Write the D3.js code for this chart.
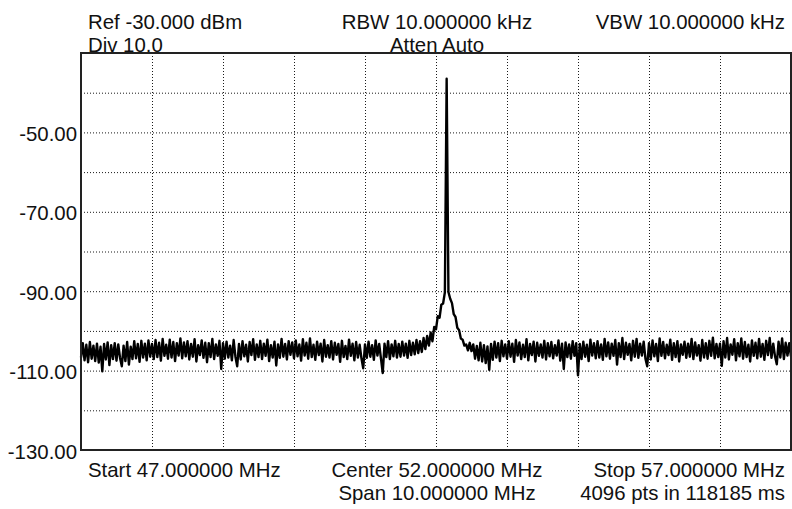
<!DOCTYPE html>
<html>
<head>
<meta charset="utf-8">
<script src="https://cdn.jsdelivr.net/npm/d3@7"></script>
<style>
  html, body { margin: 0; padding: 0; background: #fff; }
  svg { display: block; font-family: "Liberation Sans", Arial, sans-serif; }
  .lbl { font-size: 20.4px; fill: #111; }
  .grid line { stroke: #1a1a1a; stroke-width: 1; stroke-dasharray: 1,2; }
  .grid path { display: none; }
  .grid text { display: none; }
</style>
</head>
<body>
<script>
"use strict";

// sweep settings
const startMHz = 47.0;
const stopMHz = 57.0;
const stepMHz = 0.025;
const refDbm = -30;
const bottomDbm = -130;

// tick labels / grid
const yLabelTicks = [-50, -70, -90, -110, -130];
const yGridTicks = [-40, -50, -60, -70, -80, -90, -100, -110, -120];
const xGridTicks = [48, 49, 50, 51, 52, 53, 54, 55, 56];

// header / footer texts
const headerLeft = ["Ref -30.000 dBm", "Div 10.0"];
const headerMid = ["RBW 10.000000 kHz", "Atten Auto"];
const headerRight = ["VBW 10.000000 kHz"];
const footerLeft = ["Start 47.000000 MHz"];
const footerMid = ["Center 52.000000 MHz", "Span 10.000000 MHz"];
const footerRight = ["Stop 57.000000 MHz", "4096 pts in 118185 ms"];

// trace level (dBm), one value every 0.025 MHz from 47 to 57 MHz
const levelDbm = [
  -106.7,-103.1,-107.4,-103.5,-107.9,-102.8,-107.0,-103.7,-107.6,-103.2,-108.0,-104.0,-110.2,-103.3,-107.2,-102.9,-108.6,-103.6,-107.1,-103.1,
  -107.5,-103.4,-106.8,-108.9,-103.7,-107.6,-102.8,-108.5,-104.0,-107.1,-102.6,-106.9,-103.3,-107.8,-102.5,-106.7,-103.2,-107.4,-102.4,-106.5,
  -103.3,-107.1,-102.3,-106.6,-103.0,-107.5,-102.0,-106.3,-103.5,-107.0,-102.2,-106.7,-102.8,-107.6,-103.1,-106.2,-101.9,-106.9,-102.9,-106.4,
  -102.6,-107.2,-103.3,-106.5,-102.1,-107.7,-103.6,-106.1,-102.4,-106.8,-103.0,-107.9,-103.1,-106.6,-102.0,-107.1,-103.4,-106.3,-102.5,-109.6,
  -103.1,-107.0,-102.7,-106.7,-103.7,-107.4,-102.3,-106.5,-108.9,-103.3,-107.2,-102.6,-106.4,-103.5,-107.7,-102.8,-106.1,-102.1,-107.3,-103.4,
  -106.6,-102.5,-107.1,-103.2,-106.3,-102.2,-107.6,-103.6,-106.7,-102.7,-108.7,-103.4,-106.8,-102.0,-106.5,-103.3,-107.2,-102.6,-106.0,-102.9,
  -106.9,-102.4,-106.4,-103.4,-107.5,-102.1,-106.2,-103.0,-107.0,-101.9,-106.6,-103.5,-107.3,-102.7,-106.1,-103.2,-107.7,-102.3,-106.5,-103.6,
  -106.7,-102.6,-107.2,-103.0,-106.0,-103.3,-107.8,-102.5,-106.6,-103.8,-107.1,-102.2,-106.3,-103.2,-107.4,-102.8,-106.7,-103.5,-106.9,-109.4,
  -103.4,-106.8,-102.7,-106.5,-103.6,-107.3,-102.4,-106.2,-103.3,-107.0,-110.6,-103.2,-106.6,-102.6,-107.1,-103.4,-106.4,-102.5,-106.7,-103.3,
  -106.5,-102.7,-106.2,-103.2,-106.8,-102.5,-106.1,-103.0,-105.9,-102.3,-105.6,-102.6,-105.3,-101.8,-104.6,-101.3,-103.7,-100.4,-102.6,-99.0,
  -99.6,-96.3,-96.7,-93.4,-93.1,-90.3,-36.5,-90.2,-91.9,-93.0,-95.8,-96.5,-99.2,-99.8,-101.9,-102.2,-103.7,-103.4,-104.9,-103.0,
  -105.1,-103.4,-107.0,-103.8,-107.4,-103.0,-107.7,-103.6,-108.1,-103.9,-109.8,-103.3,-107.3,-102.7,-106.7,-103.1,-107.6,-102.5,-106.4,-103.4,
  -107.0,-102.6,-106.5,-103.2,-107.8,-102.3,-106.2,-102.9,-107.1,-103.5,-106.6,-102.1,-107.4,-103.3,-106.1,-102.7,-107.7,-103.0,-106.3,-103.4,
  -106.7,-102.5,-107.2,-103.1,-106.4,-102.8,-106.9,-103.6,-106.2,-102.4,-107.5,-103.2,-109.6,-102.9,-106.6,-103.4,-107.0,-102.6,-106.3,-103.1,
  -111.2,-103.3,-107.1,-102.7,-106.5,-103.5,-107.6,-102.2,-106.2,-103.1,-106.9,-102.6,-106.7,-103.4,-107.3,-102.0,-106.4,-102.9,-107.0,-103.2,
  -106.3,-102.3,-108.5,-103.1,-106.6,-101.8,-107.1,-103.0,-106.0,-103.3,-107.4,-102.5,-106.5,-102.0,-106.8,-103.2,-106.2,-102.7,-107.0,-108.9,
  -103.1,-107.2,-102.4,-106.4,-103.3,-107.6,-101.9,-106.3,-102.8,-106.9,-103.5,-106.1,-102.2,-107.3,-103.1,-106.6,-102.6,-107.7,-103.4,-106.0,
  -102.7,-106.8,-103.2,-106.5,-102.0,-107.1,-102.9,-106.2,-103.6,-107.5,-102.3,-106.7,-103.1,-107.0,-102.5,-106.3,-101.7,-106.9,-103.3,-106.6,
  -103.2,-108.8,-102.6,-106.7,-101.8,-107.2,-103.4,-106.0,-102.1,-107.4,-103.1,-106.4,-101.9,-107.0,-102.8,-106.6,-103.5,-107.7,-102.4,-106.3,
  -103.0,-106.9,-102.0,-106.5,-103.3,-107.3,-102.5,-106.1,-101.8,-106.8,-103.2,-106.4,-108.4,-102.7,-106.7,-101.9,-107.1,-103.0,-106.2,-103.1,
  -106.4
];

const width = 792;
const height = 509;
const plot = { left: 81, right: 791, top: 53, bottom: 450 };

const svg = d3.select("body").append("svg")
    .attr("width", width)
    .attr("height", height);

const x = d3.scaleLinear()
    .domain([startMHz, stopMHz])
    .range([plot.left, plot.right]);

const y = d3.scaleLinear()
    .domain([bottomDbm, refDbm])
    .range([plot.bottom, plot.top]);

// dotted grid
svg.append("g")
   .attr("class", "grid")
   .attr("transform", `translate(0,${plot.bottom})`)
   .call(d3.axisBottom(x).tickValues(xGridTicks).tickSize(-(plot.bottom - plot.top)));

svg.append("g")
   .attr("class", "grid")
   .attr("transform", `translate(${plot.left},0)`)
   .call(d3.axisLeft(y).tickValues(yGridTicks).tickSize(-(plot.right - plot.left)));

// y labels (plain hyphen minus, like the instrument)
const yAxis = svg.append("g")
   .attr("transform", `translate(${plot.left},0)`)
   .call(d3.axisLeft(y).tickValues(yLabelTicks).tickSize(0).tickPadding(4)
        .tickFormat(d => d.toFixed(2)));
yAxis.select(".domain").remove();
yAxis.selectAll("text")
     .attr("class", "lbl")
     .attr("fill", "#111")
     .style("font-size", "20.4px")
     .style("font-family", "'Liberation Sans', Arial, sans-serif")
     .attr("dy", "0.4em");

// trace
const trace = levelDbm.map((v, i) => ({ f: startMHz + i * stepMHz, v: v }));

const line = d3.line()
    .x(d => x(d.f))
    .y(d => y(d.v));

svg.append("path")
   .datum(trace)
   .attr("fill", "none")
   .attr("stroke", "#000")
   .attr("stroke-width", 2.4)
   .attr("stroke-linejoin", "round")
   .attr("d", line);

// frame
svg.append("rect")
   .attr("x", plot.left)
   .attr("y", plot.top)
   .attr("width", plot.right - plot.left)
   .attr("height", plot.bottom - plot.top)
   .attr("fill", "none")
   .attr("stroke", "#222")
   .attr("stroke-width", 2);

// header + footer text blocks
function block(lines, xPos, y0, anchor) {
    svg.append("g").selectAll("text")
       .data(lines)
       .join("text")
       .attr("class", "lbl")
       .attr("x", xPos)
       .attr("y", (d, i) => y0 + i * 23)
       .attr("text-anchor", anchor)
       .text(d => d);
}

block(headerLeft, 88, 29, "start");
block(headerMid, 437, 29, "middle");
block(headerRight, 785, 29, "end");
block(footerLeft, 88, 477, "start");
block(footerMid, 437, 477, "middle");
block(footerRight, 785, 477, "end");
</script>
</body>
</html>
